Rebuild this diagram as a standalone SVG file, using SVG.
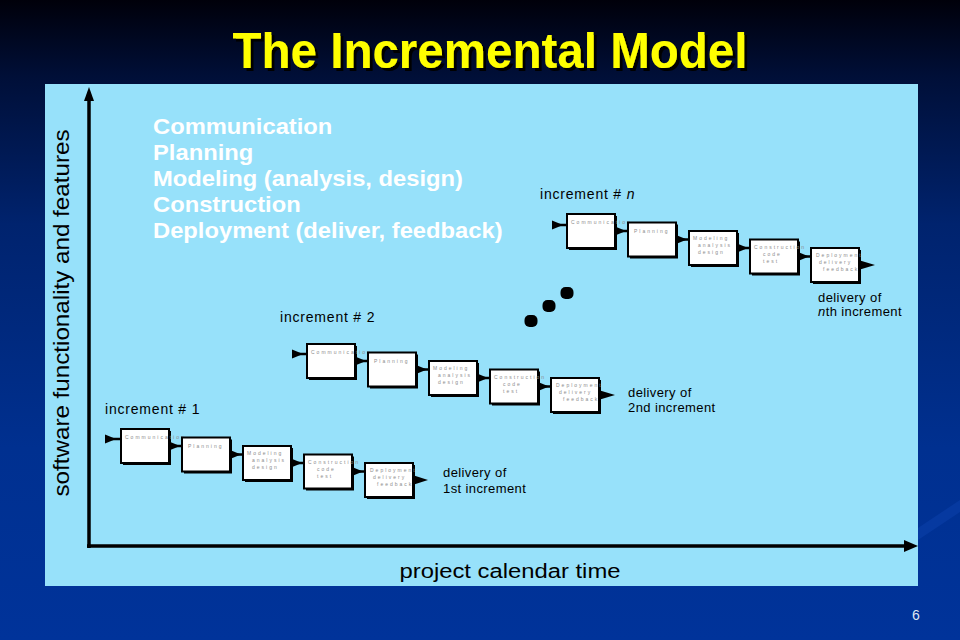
<svg xmlns="http://www.w3.org/2000/svg" width="960" height="640" viewBox="0 0 960 640">
<defs>
<linearGradient id="bg" x1="0" y1="0" x2="0" y2="1">
<stop offset="0" stop-color="#00000a"/>
<stop offset="0.12" stop-color="#000f38"/>
<stop offset="0.35" stop-color="#00236e"/>
<stop offset="0.7" stop-color="#003090"/>
<stop offset="1" stop-color="#00339a"/>
</linearGradient>
<filter id="tshadow" x="-5%" y="-20%" width="110%" height="140%">
<feOffset in="SourceAlpha" dx="3" dy="3" result="off"/>
<feFlood flood-color="#000000"/>
<feComposite in2="off" operator="in" result="sh"/>
<feMerge><feMergeNode in="sh"/><feMergeNode in="SourceGraphic"/></feMerge>
</filter>
<style>
.box{fill:#ffffff;stroke:#000000;stroke-width:2}
.shadow{fill:#000000}
.bt{font-family:"Liberation Sans",Arial,sans-serif;font-size:5px;letter-spacing:2px;fill:#8c8c8c}
.lbl{font-family:"Liberation Sans",Arial,sans-serif;font-size:14px;letter-spacing:0.8px;fill:#000000}
.dl{font-family:"Liberation Sans",Arial,sans-serif;font-size:13px;letter-spacing:0.4px;fill:#000000}
.list{font-family:"Liberation Sans",Arial,sans-serif;font-size:22px;font-weight:bold;fill:#ffffff}
.ln{stroke:#000000;stroke-width:2.5;fill:none}
.head{fill:#000000}
.axis{stroke:#000000;stroke-width:3.5;fill:none}
.dot{fill:#000000}
</style>
</defs>

<rect width="960" height="640" fill="url(#bg)"/>
<polygon points="918,528 960,500 960,512 918,540" fill="#0a3fa8" opacity="0.6"/>

<text x="490" y="68" text-anchor="middle" textLength="515" lengthAdjust="spacingAndGlyphs" font-family="'Liberation Sans',Arial,sans-serif" font-size="50" font-weight="bold" fill="#ffff00" filter="url(#tshadow)">The Incremental Model</text>

<rect x="45" y="84" width="873" height="502" fill="#97e1fa"/>

<g id="axes">
<line class="axis" x1="87" y1="546" x2="908" y2="546"/>
<polygon class="head" points="918,546 904,540 904,552"/>
<line class="axis" x1="89" y1="548" x2="89" y2="97"/>
<polygon class="head" points="89,87 84,101 94,101"/>
</g>

<text transform="translate(69,313) rotate(-90)" text-anchor="middle" textLength="367" lengthAdjust="spacingAndGlyphs" font-family="'Liberation Sans',Arial,sans-serif" font-size="22" fill="#000000">software functionality and features</text>
<text x="510" y="578" text-anchor="middle" textLength="221" lengthAdjust="spacingAndGlyphs" font-family="'Liberation Sans',Arial,sans-serif" font-size="20" fill="#000000">project calendar time</text>

<g id="legend" transform="translate(153,0) scale(1.08,1)">
<text class="list" x="0" y="134">Communication</text>
<text class="list" x="0" y="160">Planning</text>
<text class="list" x="0" y="186">Modeling (analysis, design)</text>
<text class="list" x="0" y="212">Construction</text>
<text class="list" x="0" y="238">Deployment (deliver, feedback)</text>
</g>

<!-- increment 1 -->
<text class="lbl" x="105" y="414">increment # 1</text>
<g id="inc1-communication" transform="translate(121,429)">
<rect class="shadow" x="2" y="2" width="48" height="34"/><rect class="box" width="48" height="34"/>
<text class="bt" x="4" y="10">Communication</text>
</g>
<g id="inc1-planning" transform="translate(182,437.5)">
<rect class="shadow" x="2" y="2" width="48" height="34"/><rect class="box" width="48" height="34"/>
<text class="bt" x="6" y="10">Planning</text>
</g>
<g id="inc1-modeling" transform="translate(243,446)">
<rect class="shadow" x="2" y="2" width="48" height="34"/><rect class="box" width="48" height="34"/>
<text class="bt" x="4" y="9">Modeling</text><text class="bt" x="9" y="16">analysis</text><text class="bt" x="9" y="23">design</text>
</g>
<g id="inc1-construction" transform="translate(304,454.5)">
<rect class="shadow" x="2" y="2" width="48" height="34"/><rect class="box" width="48" height="34"/>
<text class="bt" x="4" y="9">Construction</text><text class="bt" x="13" y="16">code</text><text class="bt" x="13" y="23">test</text>
</g>
<g id="inc1-deployment" transform="translate(365,463)">
<rect class="shadow" x="2" y="2" width="48" height="34"/><rect class="box" width="48" height="34"/>
<text class="bt" x="5" y="9">Deployment</text><text class="bt" x="8" y="16">delivery</text><text class="bt" x="12" y="23">feedback</text>
</g>
<text class="dl" x="443" y="477">delivery of</text>
<text class="dl" x="443" y="493">1st increment</text>

<!-- increment 2 -->
<text class="lbl" x="280" y="322">increment # 2</text>
<g id="inc2-communication" transform="translate(307,344)">
<rect class="shadow" x="2" y="2" width="48" height="34"/><rect class="box" width="48" height="34"/>
<text class="bt" x="4" y="10">Communication</text>
</g>
<g id="inc2-planning" transform="translate(368,352.5)">
<rect class="shadow" x="2" y="2" width="48" height="34"/><rect class="box" width="48" height="34"/>
<text class="bt" x="6" y="10">Planning</text>
</g>
<g id="inc2-modeling" transform="translate(429,361)">
<rect class="shadow" x="2" y="2" width="48" height="34"/><rect class="box" width="48" height="34"/>
<text class="bt" x="4" y="9">Modeling</text><text class="bt" x="9" y="16">analysis</text><text class="bt" x="9" y="23">design</text>
</g>
<g id="inc2-construction" transform="translate(490,369.5)">
<rect class="shadow" x="2" y="2" width="48" height="34"/><rect class="box" width="48" height="34"/>
<text class="bt" x="4" y="9">Construction</text><text class="bt" x="13" y="16">code</text><text class="bt" x="13" y="23">test</text>
</g>
<g id="inc2-deployment" transform="translate(551,378)">
<rect class="shadow" x="2" y="2" width="48" height="34"/><rect class="box" width="48" height="34"/>
<text class="bt" x="5" y="9">Deployment</text><text class="bt" x="8" y="16">delivery</text><text class="bt" x="12" y="23">feedback</text>
</g>
<text class="dl" x="628" y="397">delivery of</text>
<text class="dl" x="628" y="412">2nd increment</text>

<!-- increment n -->
<text class="lbl" x="540" y="199">increment # <tspan font-style="italic">n</tspan></text>
<g id="incn-communication" transform="translate(567,214)">
<rect class="shadow" x="2" y="2" width="48" height="34"/><rect class="box" width="48" height="34"/>
<text class="bt" x="4" y="10">Communication</text>
</g>
<g id="incn-planning" transform="translate(628,222.5)">
<rect class="shadow" x="2" y="2" width="48" height="34"/><rect class="box" width="48" height="34"/>
<text class="bt" x="6" y="10">Planning</text>
</g>
<g id="incn-modeling" transform="translate(689,231)">
<rect class="shadow" x="2" y="2" width="48" height="34"/><rect class="box" width="48" height="34"/>
<text class="bt" x="4" y="9">Modeling</text><text class="bt" x="9" y="16">analysis</text><text class="bt" x="9" y="23">design</text>
</g>
<g id="incn-construction" transform="translate(750,239.5)">
<rect class="shadow" x="2" y="2" width="48" height="34"/><rect class="box" width="48" height="34"/>
<text class="bt" x="4" y="9">Construction</text><text class="bt" x="13" y="16">code</text><text class="bt" x="13" y="23">test</text>
</g>
<g id="incn-deployment" transform="translate(811,248)">
<rect class="shadow" x="2" y="2" width="48" height="34"/><rect class="box" width="48" height="34"/>
<text class="bt" x="5" y="9">Deployment</text><text class="bt" x="8" y="16">delivery</text><text class="bt" x="12" y="23">feedback</text>
</g>
<text class="dl" x="818" y="302">delivery of</text>
<text class="dl" x="818" y="316"><tspan font-style="italic">n</tspan>th increment</text>

<g id="ellipsis">
<rect class="dot" x="524.5" y="315" width="13" height="12" rx="5"/>
<rect class="dot" x="542.5" y="300" width="13" height="12" rx="5"/>
<rect class="dot" x="560.5" y="287" width="13" height="12" rx="5"/>
</g>

<g id="connectors">
<!-- increment 1 -->
<path class="ln" d="M105,439 H121"/><polygon class="head" points="105,434.5 105,443.5 116,439"/>
<path class="ln" d="M169,446 H182"/><polygon class="head" points="169,441.5 169,450.5 180,446"/>
<path class="ln" d="M230,454.5 H243"/><polygon class="head" points="230,450 230,459 241,454.5"/>
<path class="ln" d="M291,463 H304"/><polygon class="head" points="291,458.5 291,467.5 302,463"/>
<path class="ln" d="M352,471.5 H365"/><polygon class="head" points="352,467 352,476 363,471.5"/>
<path class="ln" d="M413,480 H418"/><polygon class="head" points="414,475.5 414,484.5 428,480"/>
<!-- increment 2 -->
<path class="ln" d="M292,354 H307"/><polygon class="head" points="292,349.5 292,358.5 303,354"/>
<path class="ln" d="M355,361 H368"/><polygon class="head" points="355,356.5 355,365.5 366,361"/>
<path class="ln" d="M416,369.5 H429"/><polygon class="head" points="416,365 416,374 427,369.5"/>
<path class="ln" d="M477,378 H490"/><polygon class="head" points="477,373.5 477,382.5 488,378"/>
<path class="ln" d="M538,386.5 H551"/><polygon class="head" points="538,382 538,391 549,386.5"/>
<path class="ln" d="M599,395 H604"/><polygon class="head" points="600,390.5 600,399.5 615,395"/>
<!-- increment n -->
<path class="ln" d="M552,225 H567"/><polygon class="head" points="552,220.5 552,229.5 563,225"/>
<path class="ln" d="M615,231 H628"/><polygon class="head" points="615,226.5 615,235.5 626,231"/>
<path class="ln" d="M676,239.5 H689"/><polygon class="head" points="676,235 676,244 687,239.5"/>
<path class="ln" d="M737,248 H750"/><polygon class="head" points="737,243.5 737,252.5 748,248"/>
<path class="ln" d="M798,256.5 H811"/><polygon class="head" points="798,252 798,261 809,256.5"/>
<path class="ln" d="M859,265 H864"/><polygon class="head" points="860,260.5 860,269.5 875,265"/>
</g>

<text x="916" y="620" text-anchor="middle" font-family="'Liberation Sans',Arial,sans-serif" font-size="14" fill="#dfe6f2">6</text>
</svg>
